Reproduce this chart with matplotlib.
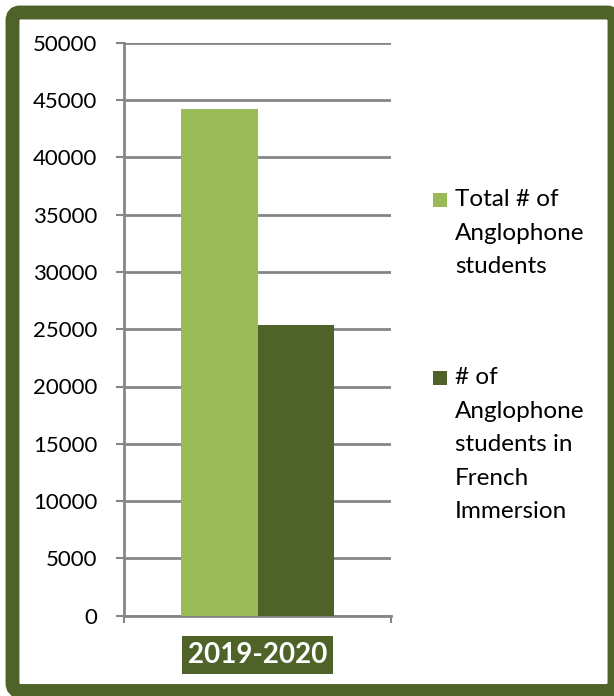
"""Anglophone students vs. those in French Immersion, 2019-2020."""

import matplotlib.pyplot as plt
from matplotlib.patches import FancyBboxPatch, Rectangle

plt.rcParams["font.family"] = ["Lato", "DejaVu Sans"]

years = ["2019-2020"]
series_labels = [
    "Total # of\nAnglophone\nstudents",
    "# of\nAnglophone\nstudents in\nFrench\nImmersion",
]
series_values = [[44200], [25400]]
series_colors = ["#9BBB59", "#4F6228"]
y_ticks = [0, 5000, 10000, 15000, 20000, 25000, 30000, 35000, 40000, 45000, 50000]

FRAME = "#4F6228"
GRID = "#868686"

fig = plt.figure(figsize=(6.14, 6.96), dpi=100)
W, H = 614, 696

# thick rounded frame around the whole chart
frame = FancyBboxPatch(
    (12.5 / W, 5.0 / H), (614.5 - 12.5) / W, (691 - 12.5) / H,
    boxstyle="round,pad=0,rounding_size=0.012",
    transform=fig.transFigure, facecolor="white", edgecolor=FRAME,
    linewidth=10, zorder=-5,
)
fig.patches.append(frame)

ax = fig.add_axes([124 / W, (H - 615.7) / H, 267 / W, 573 / H])
ax.set_facecolor("none")

bar_w = 0.2865
offsets = [-bar_w / 2, bar_w / 2]
for vals, off, color in zip(series_values, offsets, series_colors):
    ax.bar([i + off for i in range(len(years))], vals, width=bar_w,
           color=color, zorder=3)

ax.set_xlim(-0.5, len(years) - 0.5)
ax.set_ylim(0, 50000)
ax.set_yticks(y_ticks)
ax.set_yticklabels([str(v) for v in y_ticks], fontsize=16)
ax.yaxis.grid(True, color=GRID, linewidth=2, zorder=0)

for side in ["top", "right"]:
    ax.spines[side].set_visible(False)
for side in ["left", "bottom"]:
    ax.spines[side].set_color(GRID)
    ax.spines[side].set_linewidth(2)

ax.tick_params(axis="y", direction="out", length=6, width=1.5, color=GRID, pad=13)

# category boundaries carry the tick marks, the label sits in the middle
ax.set_xticks([i - 0.5 for i in range(len(years) + 1)], minor=True)
ax.tick_params(axis="x", which="minor", direction="out", length=5, width=1.5, color=GRID)
ax.set_xticks(range(len(years)))
ax.set_xticklabels(years, fontsize=20, fontweight="bold", color="white")
ax.tick_params(axis="x", which="major", length=0, pad=19)
for lbl in ax.get_xticklabels():
    lbl.set_bbox(dict(boxstyle="square,pad=0.22", facecolor=FRAME, edgecolor="none"))

# legend, marker aligned with the first text line
legend_tops = [190, 368]
for label, color, top in zip(series_labels, series_colors, legend_tops):
    fig.patches.append(Rectangle((433 / W, 1 - (top + 16.5) / H), 14 / W, 14 / H,
                                 transform=fig.transFigure, facecolor=color,
                                 edgecolor="none"))
    fig.text(455 / W, 1 - (top - 1) / H, label, fontsize=17.5, va="top", ha="left",
             linespacing=1.74)

fig.savefig("out.png", dpi=100)
